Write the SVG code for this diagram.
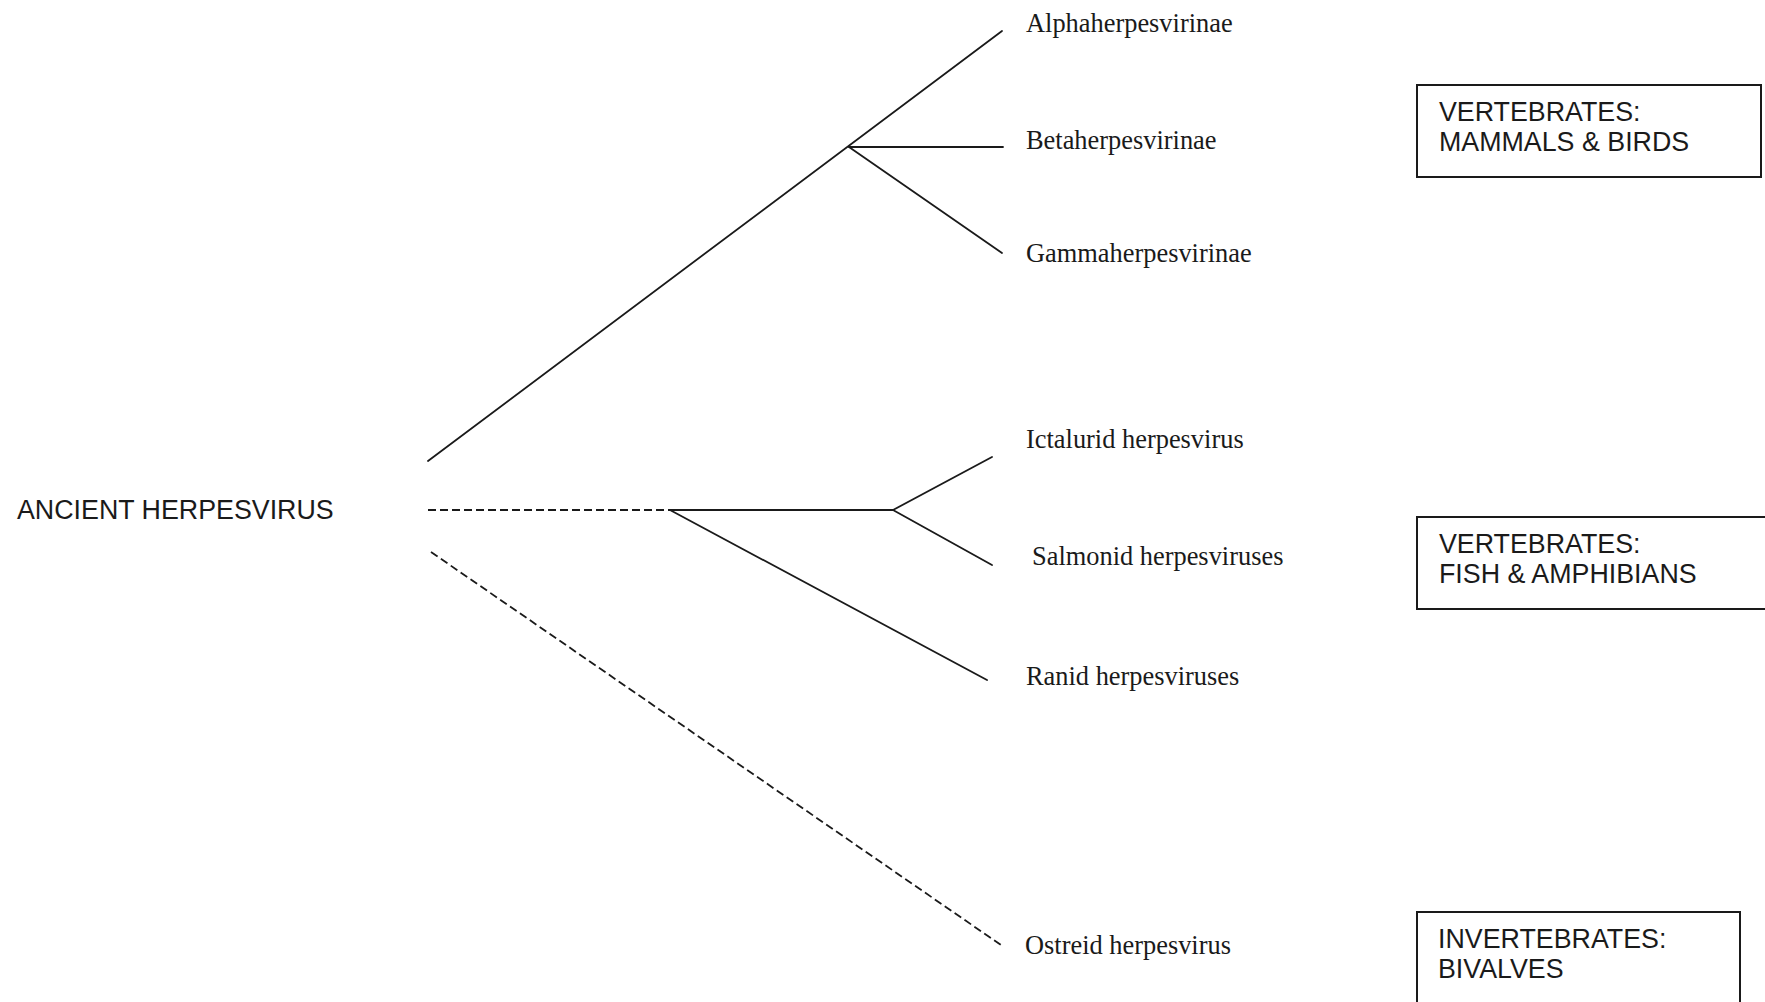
<svg xmlns="http://www.w3.org/2000/svg" width="1765" height="1002" viewBox="0 0 1765 1002">
<style>
.br{stroke:#1a1a1a;stroke-width:1.8;fill:none;stroke-linecap:round}
.dash{stroke-dasharray:8 4;stroke-linecap:butt}
.tx{font-family:"Liberation Serif","Times New Roman",serif;font-size:26.4px;fill:#1a1a1a}
.sx{font-family:"Liberation Sans",Arial,sans-serif;font-size:26.8px;fill:#1a1a1a}
.box{fill:#fff;stroke:#1a1a1a;stroke-width:2}
</style>
<rect width="1765" height="1002" fill="#fff"/>
<g id="connectors">
<line class="br" x1="428" y1="461" x2="1002" y2="31"/>
<line class="br" x1="849" y1="147" x2="1003" y2="147"/>
<line class="br" x1="849" y1="147" x2="1002" y2="253"/>
<line class="br dash" x1="428" y1="510" x2="670" y2="510"/>
<line class="br" x1="670" y1="510" x2="893" y2="510"/>
<line class="br" x1="893" y1="510" x2="992" y2="457"/>
<line class="br" x1="893" y1="510" x2="992" y2="565"/>
<line class="br" x1="670" y1="510" x2="987" y2="680"/>
<line class="br dash" x1="431" y1="552" x2="1001" y2="945"/>
</g>
<g id="root"><text class="sx" x="17" y="519">ANCIENT HERPESVIRUS</text></g>
<g id="alpha"><text class="tx" x="1026" y="32">Alphaherpesvirinae</text></g>
<g id="beta"><text class="tx" x="1026" y="149">Betaherpesvirinae</text></g>
<g id="gamma"><text class="tx" x="1026" y="262">Gammaherpesvirinae</text></g>
<g id="ictalurid"><text class="tx" x="1026" y="448">Ictalurid herpesvirus</text></g>
<g id="salmonid"><text class="tx" x="1032" y="565">Salmonid herpesviruses</text></g>
<g id="ranid"><text class="tx" x="1026" y="685">Ranid herpesviruses</text></g>
<g id="ostreid"><text class="tx" x="1025" y="954">Ostreid herpesvirus</text></g>
<g id="box-mammals">
<rect class="box" x="1417" y="85" width="344" height="92"/>
<text class="sx" x="1439" y="121">VERTEBRATES:</text>
<text class="sx" x="1439" y="151">MAMMALS &amp; BIRDS</text>
</g>
<g id="box-fish">
<rect class="box" x="1417" y="517" width="360" height="92"/>
<text class="sx" x="1439" y="553">VERTEBRATES:</text>
<text class="sx" x="1439" y="583">FISH &amp; AMPHIBIANS</text>
</g>
<g id="box-bivalves">
<rect class="box" x="1417" y="912" width="323" height="100"/>
<text class="sx" x="1438" y="948">INVERTEBRATES:</text>
<text class="sx" x="1438" y="978">BIVALVES</text>
</g>
</svg>
